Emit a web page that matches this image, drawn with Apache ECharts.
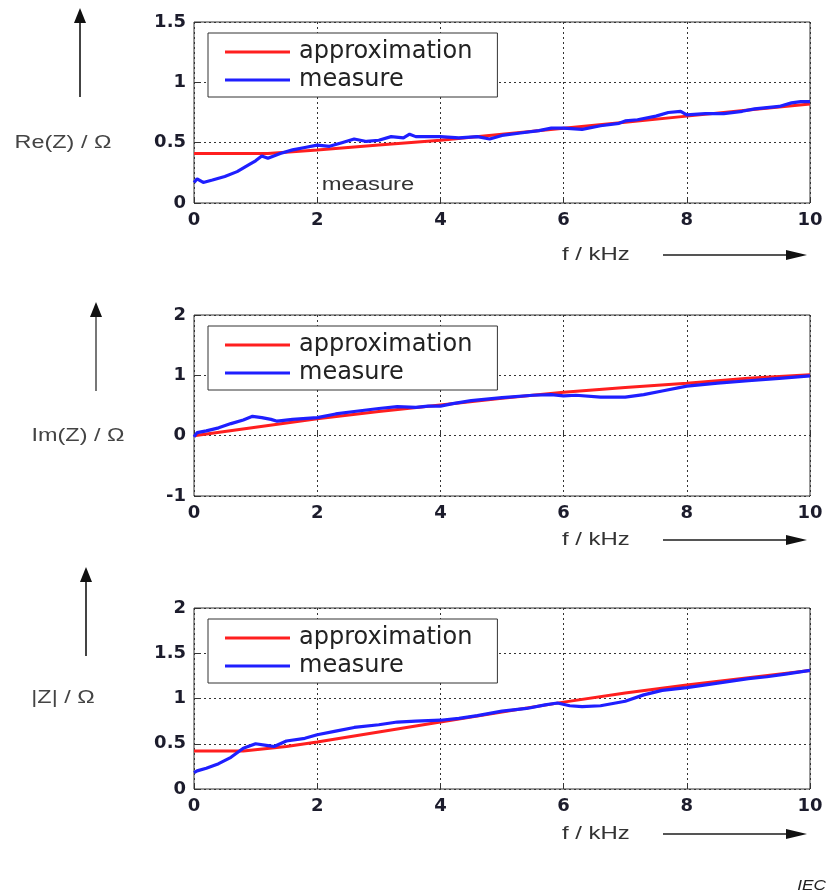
<!DOCTYPE html>
<html>
<head>
<meta charset="utf-8">
<script src="https://cdn.jsdelivr.net/npm/echarts@6/dist/echarts.min.js"></script>
<style>
  html, body { margin: 0; padding: 0; background: #fff; }
  #main { width: 828px; height: 893px; }
</style>
</head>
<body>
<div id="main"></div>
<script>
// Re(Z)
var reApproxF = [0, 1.2, 2, 3, 4, 5, 6, 7, 8, 9, 10];
var reApproxV = [0.41, 0.41, 0.44, 0.48, 0.52, 0.57, 0.62, 0.67, 0.72, 0.77, 0.82];
var reMeasF = [0, 0.05, 0.15, 0.3, 0.5, 0.7, 0.9, 1.0, 1.1, 1.2, 1.4, 1.6, 1.8, 2.0, 2.2, 2.4, 2.6, 2.8, 3.0, 3.2, 3.4, 3.5, 3.6, 3.8, 4.0, 4.3, 4.6, 4.8, 5.0, 5.3, 5.6, 5.8, 6.0, 6.3, 6.6, 6.9, 7.0, 7.2, 7.5, 7.7, 7.9, 8.0, 8.3, 8.6, 8.9, 9.1, 9.3, 9.5, 9.7, 9.85, 10];
var reMeasV = [0.17, 0.2, 0.17, 0.19, 0.22, 0.26, 0.32, 0.35, 0.39, 0.37, 0.41, 0.44, 0.46, 0.48, 0.47, 0.5, 0.53, 0.51, 0.52, 0.55, 0.54, 0.57, 0.55, 0.55, 0.55, 0.54, 0.55, 0.53, 0.56, 0.58, 0.6, 0.62, 0.62, 0.61, 0.64, 0.66, 0.68, 0.69, 0.72, 0.75, 0.76, 0.73, 0.74, 0.74, 0.76, 0.78, 0.79, 0.8, 0.83, 0.84, 0.84];

// Im(Z)
var imApproxF = [0, 1, 2, 3, 4, 5, 6, 7, 8, 9, 10];
var imApproxV = [0, 0.14, 0.28, 0.4, 0.51, 0.62, 0.72, 0.8, 0.87, 0.95, 1.01];
var imMeasF = [0, 0.05, 0.2, 0.4, 0.6, 0.8, 0.95, 1.1, 1.25, 1.35, 1.6, 2.0, 2.3, 2.6, 3.0, 3.3, 3.6, 3.8, 4.0, 4.2, 4.5, 5.0, 5.5, 5.8, 6.0, 6.2, 6.6, 7.0, 7.3, 7.6, 8.0, 8.5, 9.0, 9.5, 10];
var imMeasV = [-0.02, 0.05, 0.08, 0.13, 0.2, 0.26, 0.32, 0.3, 0.27, 0.24, 0.27, 0.3, 0.36, 0.4, 0.45, 0.48, 0.47, 0.49, 0.49, 0.53, 0.58, 0.63, 0.67, 0.68, 0.66, 0.67, 0.64, 0.64, 0.68, 0.74, 0.82, 0.87, 0.91, 0.95, 0.99];

// |Z|
var absApproxF = [0, 0.8, 1.5, 2, 3, 4, 5, 6, 7, 8, 9, 10];
var absApproxV = [0.42, 0.42, 0.47, 0.52, 0.63, 0.74, 0.85, 0.96, 1.06, 1.15, 1.23, 1.31];
var absMeasF = [0, 0.05, 0.2, 0.4, 0.6, 0.8, 1.0, 1.2, 1.3, 1.5, 1.8, 2.0, 2.3, 2.6, 3.0, 3.3, 3.6, 4.0, 4.3, 4.6, 5.0, 5.4, 5.7, 5.9, 6.1, 6.3, 6.6, 7.0, 7.3, 7.6, 8.0, 8.5, 9.0, 9.3, 9.6, 10];
var absMeasV = [0.18, 0.2, 0.23, 0.28, 0.35, 0.45, 0.5, 0.48, 0.47, 0.53, 0.56, 0.6, 0.64, 0.68, 0.71, 0.74, 0.75, 0.76, 0.78, 0.81, 0.86, 0.89, 0.93, 0.95, 0.92, 0.91, 0.92, 0.97, 1.04, 1.09, 1.12, 1.17, 1.22, 1.24, 1.27, 1.31];

var yLabels = ['Re(Z) / Ω', 'Im(Z) / Ω', '|Z| / Ω'];
var seriesNames = ['approximation', 'measure'];

function pairs(xs, ys) {
  var out = [];
  for (var i = 0; i < xs.length; i++) out.push([xs[i], ys[i]]);
  return out;
}

var gridTops = [22, 315, 608];
var gridH = 181;
var red = '#ff1f1f';
var blue = '#1f1fff';
var gridColor = '#333';
var tickFont = { color: '#1c1c2c', fontSize: 18, fontWeight: 'bold', fontFamily: 'DejaVu Sans' };

var grids = [], xAxes = [], yAxes = [], series = [], legends = [];
var yRanges = [[0, 1.5, 0.5], [-1, 2, 1], [0, 2, 0.5]];
var approx = [[reApproxF, reApproxV], [imApproxF, imApproxV], [absApproxF, absApproxV]];
var meas = [[reMeasF, reMeasV], [imMeasF, imMeasV], [absMeasF, absMeasV]];

for (var g = 0; g < 3; g++) {
  grids.push({
    left: 194, top: gridTops[g], width: 616, height: gridH,
    show: true, borderColor: '#333', borderWidth: 1, backgroundColor: 'transparent'
  });
  xAxes.push({
    type: 'value', gridIndex: g, min: 0, max: 10, interval: 2,
    axisLine: { show: false },
    axisTick: { show: true, inside: true, length: 5, lineStyle: { color: '#333' } },
    axisLabel: Object.assign({ margin: 8 }, tickFont),
    splitLine: { show: true, lineStyle: { color: gridColor, type: [2, 3], width: 1 } }
  });
  yAxes.push({
    type: 'value', gridIndex: g, min: yRanges[g][0], max: yRanges[g][1], interval: yRanges[g][2],
    axisLine: { show: false },
    axisTick: { show: true, inside: true, length: 5, lineStyle: { color: '#333' } },
    axisLabel: Object.assign({ margin: 8 }, tickFont),
    splitLine: { show: true, lineStyle: { color: gridColor, type: [2, 3], width: 1 } }
  });
  series.push({
    name: seriesNames[0], type: 'line', xAxisIndex: g, yAxisIndex: g,
    data: pairs(approx[g][0], approx[g][1]), symbol: 'none',
    lineStyle: { color: red, width: 3 }, itemStyle: { color: red }, z: 2
  });
  series.push({
    name: seriesNames[1], type: 'line', xAxisIndex: g, yAxisIndex: g,
    data: pairs(meas[g][0], meas[g][1]), symbol: 'none',
    lineStyle: { color: blue, width: 3.2 }, itemStyle: { color: blue }, z: 3
  });
  legends.push({
    data: seriesNames, orient: 'vertical', left: 208, top: gridTops[g] + 11,
    icon: 'rect', itemWidth: 65, itemHeight: 3, itemGap: 4,
    padding: [7, 25, 5, 17],
    backgroundColor: '#fff', borderColor: '#333', borderWidth: 1,
    selectedMode: false,
    textStyle: { fontSize: 24, lineHeight: 24, color: '#222', fontFamily: 'DejaVu Sans', padding: [0, 0, 0, 4] }
  });
}

// decorations: axis captions and arrows
var graphics = [];
var fLabelY = [255, 540, 834];
var yArrowX = [80, 96, 86];
var yArrowTop = [8, 302, 567];
var yLabelPos = [[63, 143], [78, 436], [63, 698]];
for (var k = 0; k < 3; k++) {
  graphics.push({ type: 'text', x: 562, y: fLabelY[k], scaleX: 1.26,
    style: { text: 'f / kHz', fontSize: 19, fill: '#333', fontFamily: 'Liberation Sans', verticalAlign: 'middle' } });
  graphics.push({ type: 'line', shape: { x1: 663, y1: fLabelY[k], x2: 790, y2: fLabelY[k] },
    style: { stroke: '#555', lineWidth: 2 } });
  graphics.push({ type: 'polygon', shape: { points: [[786, fLabelY[k] - 5], [807, fLabelY[k]], [786, fLabelY[k] + 5]] },
    style: { fill: '#111' } });
  var ax = yArrowX[k], at = yArrowTop[k];
  graphics.push({ type: 'line', shape: { x1: ax, y1: at + 12, x2: ax, y2: at + 89 },
    style: { stroke: k === 1 ? '#777' : '#444', lineWidth: 2 } });
  graphics.push({ type: 'polygon', shape: { points: [[ax - 6, at + 15], [ax, at], [ax + 6, at + 15]] },
    style: { fill: '#111' } });
  graphics.push({ type: 'text', x: yLabelPos[k][0], y: yLabelPos[k][1], scaleX: 1.3,
    style: { text: yLabels[k], fontSize: 18, fill: '#444', fontFamily: 'Liberation Sans', align: 'center', verticalAlign: 'middle' } });
}
graphics.push({ type: 'text', x: 368, y: 185, scaleX: 1.32,
  style: { text: 'measure', fontSize: 18, fill: '#333', fontFamily: 'Liberation Sans', align: 'center', verticalAlign: 'middle' } });
graphics.push({ type: 'text', x: 826, y: 886, scaleX: 1.15,
  style: { text: 'IEC', fontSize: 15, fill: '#222', fontStyle: 'italic', fontFamily: 'Liberation Sans', align: 'right', verticalAlign: 'middle' } });

var chart = echarts.init(document.getElementById('main'));
chart.setOption({
  animation: false,
  backgroundColor: '#fff',
  grid: grids,
  xAxis: xAxes,
  yAxis: yAxes,
  legend: legends,
  series: series,
  graphic: graphics
});
</script>
</body>
</html>
